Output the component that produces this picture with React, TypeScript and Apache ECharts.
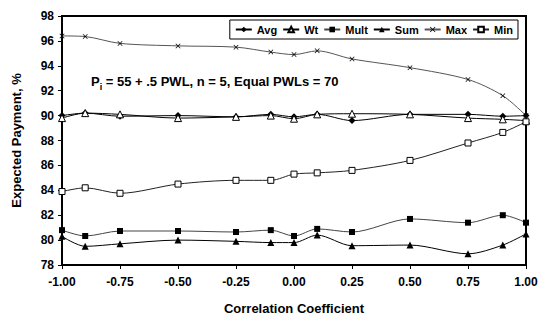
import React, { useEffect, useRef } from "react";
import * as echarts from "echarts";

const xValues = [-1, -0.9, -0.75, -0.5, -0.25, -0.1, 0, 0.1, 0.25, 0.5, 0.75, 0.9, 1.0];
const avg = [90.0, 90.2, 89.95, 90.0, 89.9, 90.1, 89.9, 90.1, 89.6, 90.1, 90.1, 89.95, 90.0];
const wt = [89.8, 90.2, 90.1, 89.8, 89.9, 90.0, 89.75, 90.1, 90.15, 90.1, 89.8, 89.7, 89.6];
const mult = [80.8, 80.33, 80.73, 80.73, 80.65, 80.8, 80.33, 80.9, 80.65, 81.7, 81.4, 82.0, 81.4];
const sum = [80.3, 79.5, 79.7, 80.0, 79.9, 79.8, 79.8, 80.4, 79.55, 79.6, 78.9, 79.6, 80.5];
const maxS = [96.4, 96.35, 95.8, 95.6, 95.5, 95.1, 94.9, 95.2, 94.55, 93.85, 92.9, 91.6, 90.0];
const minS = [83.9, 84.2, 83.76, 84.5, 84.8, 84.8, 85.3, 85.4, 85.6, 86.4, 87.8, 88.65, 89.5];
const yTicks = { min: 78, max: 98, step: 2 };
const xTicks = { min: -1, max: 1, step: 0.25 };

const FONT = "Arial, 'Liberation Sans', sans-serif";
const X_SYMBOL =
  "path://M0,1 L1,0 L5,4 L9,0 L10,1 L6,5 L10,9 L9,10 L5,6 L1,10 L0,9 L4,5 Z";

function pairs(ys: number[]) {
  return xValues.map((x, i) => [x, ys[i]]);
}

export default function App() {
  const ref = useRef<HTMLDivElement>(null);
  useEffect(() => {
    if (!ref.current) return;
    const chart = echarts.init(ref.current, undefined, { renderer: "svg" });
    const mk = (
      name: string,
      ys: number[],
      symbol: string,
      size: number,
      lineColor: string,
      empty = false
    ) => ({
      name,
      type: "line",
      data: pairs(ys),
      smooth: 0.3,
      symbol,
      symbolSize: size,
      showAllSymbol: true,
      lineStyle: { color: lineColor, width: 1 },
      itemStyle: empty
        ? { color: "#fff", borderColor: "#000", borderWidth: 1 }
        : { color: "#000", borderColor: "#000", borderWidth: 0 },
      z: 3,
    });
    chart.setOption({
      animation: false,
      backgroundColor: "#fff",
      grid: {
        left: 62,
        right: 24,
        top: 16,
        bottom: 68,
        show: true,
        borderColor: "#000",
        borderWidth: 2,
        backgroundColor: "transparent",
      },
      legend: {
        top: 20,
        right: 32,
        itemWidth: 16,
        itemHeight: 7,
        itemGap: 5,
        borderColor: "#000",
        borderWidth: 1,
        padding: [4, 5, 4, 5],
        backgroundColor: "#fff",
        textStyle: { fontFamily: FONT, fontWeight: "bold", fontSize: 11, color: "#000" },
        data: ["Avg", "Wt", "Mult", "Sum", "Max", "Min"],
      },
      xAxis: {
        type: "value",
        min: xTicks.min,
        max: xTicks.max,
        interval: xTicks.step,
        name: "Correlation Coefficient",
        nameLocation: "middle",
        nameGap: 37,
        nameTextStyle: { fontFamily: FONT, fontWeight: "bold", fontSize: 13, color: "#000" },
        axisLine: { onZero: false, lineStyle: { color: "#000", width: 2 } },
        axisTick: { show: true, length: 4, lineStyle: { color: "#000", width: 1 } },
        axisLabel: {
          fontFamily: FONT,
          fontWeight: "bold",
          fontSize: 12,
          color: "#000",
          margin: 11,
          formatter: (v: number) => v.toFixed(2),
        },
        splitLine: { show: false },
      },
      yAxis: {
        type: "value",
        min: yTicks.min,
        max: yTicks.max,
        interval: yTicks.step,
        name: "Expected Payment, %",
        nameLocation: "middle",
        nameGap: 39,
        nameRotate: 90,
        nameTextStyle: { fontFamily: FONT, fontWeight: "bold", fontSize: 13, color: "#000" },
        axisLine: { show: true, onZero: false, lineStyle: { color: "#000", width: 2 } },
        axisTick: { show: true, length: 4, lineStyle: { color: "#000", width: 1 } },
        axisLabel: {
          fontFamily: FONT,
          fontWeight: "bold",
          fontSize: 12,
          color: "#000",
          margin: 8,
        },
        splitLine: { show: false },
      },
      graphic: [
        {
          type: "text",
          left: 91,
          top: 75,
          style: {
            text: "P{sub|i} = 55 + .5 PWL, n = 5, Equal PWLs = 70",
            font: `bold 13px ${FONT}`,
            fill: "#000",
            rich: {
              sub: {
                font: `bold 9px ${FONT}`,
                fill: "#000",
                verticalAlign: "bottom",
                padding: [10, 0, 0, 0],
              },
            },
          },
          z: 10,
        },
      ],
      series: [
        mk("Avg", avg, "diamond", 7, "#000"),
        mk("Wt", wt, "triangle", 7, "#000", true),
        mk("Mult", mult, "rect", 6, "#444"),
        mk("Sum", sum, "triangle", 7, "#000"),
        mk("Max", maxS, X_SYMBOL, 5, "#555"),
        mk("Min", minS, "rect", 6, "#222", true),
      ],
    });
    return () => chart.dispose();
  }, []);
  return (
    <div
      ref={ref}
      style={{ position: "fixed", left: 0, top: 0, width: 550, height: 333 }}
    />
  );
}
